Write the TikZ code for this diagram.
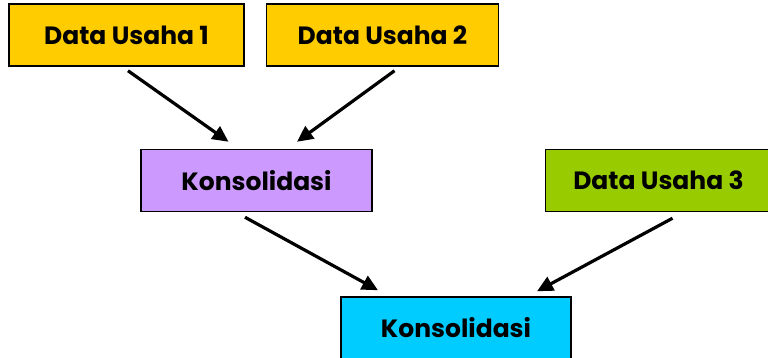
\documentclass[tikz,border=0pt]{standalone}
\usepackage{fontspec}
\setmainfont{Poppins}
\usepackage{xcolor}
\usetikzlibrary{arrows.meta,positioning}

\definecolor{usahayellow}{HTML}{FFCC00}
\definecolor{konspurple}{HTML}{CC99FF}
\definecolor{usahagreen}{HTML}{99CC00}
\definecolor{konscyan}{HTML}{00CCFF}

\begin{document}
\begin{tikzpicture}[
  x=1pt, y=-1pt,
  node distance=21pt,
  box/.style={draw, line width=1.5pt, inner sep=0pt, minimum height=62pt, font=\fontsize{25}{30}\selectfont\bfseries},
  arr/.style={-{Triangle[length=16pt,width=15pt]}, line width=3.2pt}
]
\useasboundingbox (0,0) rectangle (768,358);
\node[box, fill=usahayellow, minimum width=235pt] (du1) at (126.5,35) {Data Usaha 1};
\node[box, fill=usahayellow, minimum width=232pt, right=of du1] (du2) {Data Usaha 2};
\node[box, fill=konspurple, minimum width=231pt] (kons1) at (256.5,180.5) {Konsolidasi};
\node[box, fill=usahagreen, minimum width=226pt, right=172pt of kons1] (du3) {Data Usaha 3};
\node[box, fill=konscyan, minimum width=230pt] (kons2) at (456,328) {Konsolidasi};
\draw[arr] ([xshift=1.5pt,yshift=-4pt]du1.south) -- ([xshift=-28pt,yshift=7pt]kons1.north);
\draw[arr] ([xshift=12pt,yshift=-4pt]du2.south) -- ([xshift=40.5pt,yshift=7pt]kons1.north);
\draw[arr] ([xshift=-11.5pt,yshift=-5pt]kons1.south) -- ([xshift=-78pt,yshift=6pt]kons2.north);
\draw[arr] ([xshift=14pt,yshift=-6pt]du3.south) -- ([xshift=81pt,yshift=5pt]kons2.north);
\end{tikzpicture}
\end{document}
